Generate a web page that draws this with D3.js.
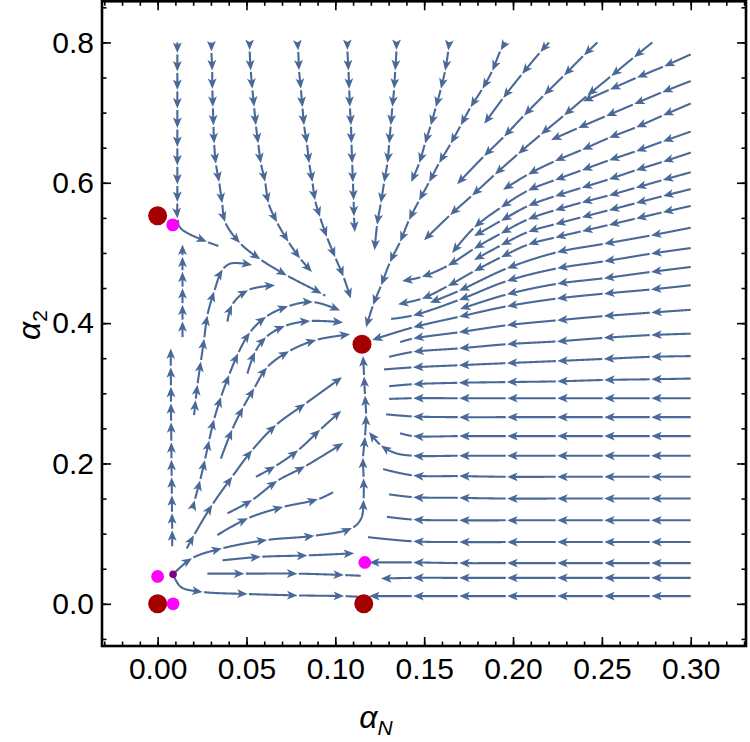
<!DOCTYPE html>
<html>
<head>
<meta charset="utf-8">
<script src="https://cdn.jsdelivr.net/npm/d3@7"></script>
<style>
  body { margin: 0; background: #fff; }
  svg text { font-family: "Liberation Sans", Arial, sans-serif; fill: #000; }
</style>
</head>
<body>
<svg id="chart" width="750" height="742"></svg>
<script>
// fixed points of the flow, as (alpha_N, alpha_2)
const stablePoints = [[0, 0.553], [0.115, 0.370], [0, 0], [0.116, 0]]
const saddlePoints = [[0.0085, 0.540], [0, 0.039], [0.0087, 0], [0.1166, 0.059]]
const sourcePoints = [[0.0087, 0.042]]

const xTickValues = [0, 0.05, 0.1, 0.15, 0.2, 0.25, 0.3]
const xTickLabels = ["0.00", "0.05", "0.10", "0.15", "0.20", "0.25", "0.30"]
const yTickValues = [0, 0.2, 0.4, 0.6, 0.8]
const yTickLabels = ["0.0", "0.2", "0.4", "0.6", "0.8"]

// streamlines: first point is where the line starts,
// every other point is an arrow tip (a third entry 0 = bend / end without arrow)
const topStreams = [
  [[0.0111,0.800],[0.0111,0.785],[0.0111,0.759],[0.0111,0.732],[0.0111,0.706],[0.0111,0.678],[0.0111,0.651],[0.0111,0.625],[0.0111,0.598],[0.0111,0.573],[0.0112,0.549],[0.0131,0.535,0],[0.0277,0.516],[0.0342,0.510,0]],
  [[0.0303,0.800],[0.0303,0.787],[0.0307,0.760],[0.0308,0.734],[0.0311,0.708],[0.0314,0.682],[0.0318,0.656],[0.0328,0.627],[0.0346,0.601],[0.0363,0.571],[0.0380,0.544],[0.0464,0.514],[0.0577,0.491],[0.0727,0.468],[0.0924,0.442],[0.0943,0.439,0]],
  [[0.0518,0.800],[0.0518,0.789],[0.0524,0.760],[0.0533,0.734],[0.0543,0.708],[0.0553,0.682],[0.0566,0.656],[0.0581,0.628],[0.0605,0.601],[0.0624,0.571],[0.0671,0.544],[0.0736,0.516],[0.0802,0.492],[0.0868,0.473]],
  [[0.0787,0.800],[0.0791,0.789],[0.0796,0.760],[0.0806,0.734],[0.0815,0.708],[0.0824,0.682],[0.0840,0.656],[0.0853,0.628],[0.0871,0.601],[0.0886,0.575],[0.0914,0.551],[0.0952,0.523],[0.0999,0.494],[0.1046,0.466],[0.1087,0.435]],
  [[0.1068,0.800],[0.1068,0.789],[0.1074,0.760],[0.1078,0.734],[0.1082,0.708],[0.1088,0.682],[0.1091,0.656],[0.1095,0.628],[0.1099,0.601],[0.1103,0.575],[0.1105,0.552],[0.1110,0.530]],
  [[0.1344,0.800],[0.1344,0.789],[0.1337,0.760],[0.1331,0.734],[0.1321,0.708],[0.1312,0.682],[0.1303,0.656],[0.1293,0.628],[0.1275,0.601],[0.1256,0.571],[0.1235,0.540],[0.1221,0.504]],
  [[0.1640,0.800],[0.1636,0.789],[0.1618,0.760],[0.1594,0.734],[0.1566,0.708],[0.1537,0.682],[0.1505,0.656],[0.1472,0.628],[0.1427,0.601]],
  [[0.1960,0.800],[0.1931,0.789],[0.1884,0.760],[0.1828,0.734],[0.1762,0.708],[0.1706,0.682],[0.1650,0.656],[0.1584,0.628],[0.1528,0.601],[0.1472,0.575],[0.1415,0.547],[0.1365,0.516],[0.1308,0.487],[0.1258,0.454],[0.1213,0.426],[0.1173,0.394]],
  [[0.2203,0.800],[0.2153,0.786],[0.2051,0.755],[0.1945,0.721],[0.1838,0.684]],
  [[0.2475,0.800],[0.2400,0.782],[0.2287,0.753],[0.2175,0.725],[0.2062,0.696],[0.1950,0.666],[0.1837,0.638],[0.1685,0.598]],
  [[0.2784,0.800],[0.2681,0.779],[0.2552,0.752],[0.2417,0.724],[0.2287,0.696],[0.2158,0.669],[0.2028,0.641],[0.1899,0.612],[0.1770,0.582],[0.1646,0.554],[0.1499,0.518]]
]

const rightStreams = [
  [[0.300,0.783],[0.2850,0.766],[0.2698,0.750],[0.2546,0.733],[0.2394,0.716]],
  [[0.300,0.745],[0.2839,0.729],[0.2681,0.712],[0.2523,0.695],[0.2366,0.678],[0.2214,0.661]],
  [[0.300,0.713],[0.2844,0.696],[0.2692,0.679],[0.2540,0.664],[0.2388,0.647],[0.2237,0.631],[0.2085,0.612],[0.1944,0.590]],
  [[0.300,0.673],[0.2844,0.659],[0.2692,0.645],[0.2540,0.632],[0.2388,0.618],[0.2237,0.604],[0.2085,0.589],[0.1933,0.565],[0.1781,0.536],[0.1657,0.500]],
  [[0.300,0.643],[0.2844,0.630],[0.2692,0.618],[0.2540,0.605],[0.2388,0.593],[0.2237,0.581],[0.2085,0.567],[0.1933,0.546],[0.1781,0.524]],
  [[0.300,0.615],[0.2844,0.604],[0.2692,0.593],[0.2540,0.582],[0.2388,0.572],[0.2237,0.561],[0.2085,0.548],[0.1933,0.528],[0.1781,0.506],[0.1634,0.482],[0.1488,0.466],[0.1376,0.460]],
  [[0.300,0.591],[0.2844,0.581],[0.2692,0.571],[0.2540,0.561],[0.2388,0.551],[0.2237,0.541],[0.2085,0.530],[0.1933,0.511],[0.1781,0.490]],
  [[0.300,0.567],[0.2844,0.558],[0.2692,0.549],[0.2540,0.540],[0.2388,0.531],[0.2237,0.522],[0.2085,0.512],[0.1933,0.494],[0.1781,0.474],[0.1634,0.453],[0.1488,0.435],[0.1353,0.427]]
]

const rowStreams = [
  [[0.300,0.536],[0.2777,0.525],[0.2512,0.513],[0.2248,0.501],[0.1966,0.478],[0.1696,0.446],[0.1533,0.429]],
  [[0.300,0.507],[0.2777,0.499],[0.2512,0.488],[0.2248,0.478],[0.1966,0.460],[0.1696,0.433],[0.1438,0.411],[0.1314,0.406,0]],
  [[0.300,0.480],[0.2777,0.473],[0.2512,0.464],[0.2248,0.456],[0.1966,0.441],[0.1702,0.420]],
  [[0.300,0.454],[0.2777,0.448],[0.2512,0.442],[0.2248,0.435],[0.1966,0.424],[0.1696,0.409],[0.1438,0.394],[0.1207,0.376]],
  [[0.300,0.419],[0.2777,0.415],[0.2512,0.410],[0.2248,0.404],[0.1966,0.397],[0.1696,0.387],[0.1438,0.378],[0.1365,0.373,0]],
  [[0.300,0.385],[0.2777,0.383],[0.2512,0.379],[0.2248,0.374],[0.1966,0.370],[0.1696,0.364],[0.1438,0.359],[0.1303,0.352,0]],
  [[0.300,0.353],[0.2777,0.352],[0.2512,0.349],[0.2248,0.346],[0.1966,0.343],[0.1696,0.340],[0.1438,0.337],[0.1274,0.334,0]],
  [[0.300,0.321],[0.2777,0.320],[0.2512,0.319],[0.2248,0.317],[0.1966,0.316],[0.1696,0.315],[0.1438,0.313],[0.1303,0.310,0]],
  [[0.300,0.293],[0.2777,0.293],[0.2512,0.293],[0.2248,0.293],[0.1966,0.293],[0.1696,0.293],[0.1438,0.293],[0.1303,0.292,0]],
  [[0.300,0.266],[0.2777,0.266],[0.2512,0.266],[0.2248,0.266],[0.1966,0.266],[0.1696,0.266],[0.1438,0.267],[0.1286,0.270,0]],
  [[0.300,0.239],[0.2777,0.239],[0.2512,0.239],[0.2248,0.239],[0.1966,0.239],[0.1696,0.239],[0.1438,0.239],[0.1364,0.243,0]],
  [[0.300,0.211],[0.2777,0.211],[0.2512,0.211],[0.2248,0.211],[0.1966,0.211],[0.1696,0.211],[0.1438,0.211],[0.1336,0.215,0],[0.1256,0.226],[0.1190,0.245]],
  [[0.300,0.181],[0.2777,0.181],[0.2512,0.181],[0.2248,0.181],[0.1966,0.181],[0.1696,0.182],[0.1438,0.183],[0.1269,0.192,0]],
  [[0.300,0.150],[0.2777,0.150],[0.2512,0.150],[0.2248,0.150],[0.1966,0.150],[0.1696,0.151],[0.1438,0.152],[0.1303,0.156,0]],
  [[0.300,0.119],[0.2777,0.119],[0.2512,0.119],[0.2248,0.119],[0.1966,0.119],[0.1696,0.119],[0.1438,0.120],[0.1291,0.124,0]],
  [[0.300,0.088],[0.2777,0.088],[0.2512,0.088],[0.2248,0.088],[0.1966,0.088],[0.1696,0.088],[0.1438,0.089],[0.1184,0.095,0]],
  [[0.300,0.058],[0.2777,0.058],[0.2512,0.058],[0.2248,0.058],[0.1966,0.058],[0.1696,0.058],[0.1438,0.059],[0.1190,0.059]],
  [[0.300,0.037],[0.2777,0.037],[0.2512,0.037],[0.2248,0.037],[0.1966,0.037],[0.1696,0.037],[0.1438,0.037],[0.1257,0.036]],
  [[0.300,0.011],[0.2777,0.011],[0.2512,0.011],[0.2248,0.011],[0.1966,0.011],[0.1696,0.011],[0.1438,0.011],[0.1190,0.011]]
]

const lowerStreams = [
  [[0.0140,0.380],[0.0140,0.403],[0.0140,0.426],[0.0140,0.450],[0.0140,0.473],[0.0140,0.495],[0.0140,0.512]],
  [[0.0082,0.082],[0.0082,0.105],[0.0081,0.129],[0.0080,0.155],[0.0079,0.180],[0.0078,0.205],[0.0077,0.230],[0.0076,0.259],[0.0075,0.286],[0.0075,0.309],[0.0074,0.337],[0.0074,0.364]],
  [[0.0205,0.269],[0.0214,0.290],[0.0224,0.312],[0.0243,0.345],[0.0262,0.378],[0.0280,0.411],[0.0318,0.445],[0.0365,0.476],[0.0412,0.485,0],[0.0532,0.483]],
  [[0.0393,0.402],[0.0419,0.426],[0.0509,0.447],[0.0661,0.454]],
  [[0.0196,0.136],[0.0209,0.148],[0.0239,0.176],[0.0266,0.205],[0.0290,0.233],[0.0318,0.263],[0.0357,0.295],[0.0402,0.326],[0.0453,0.357],[0.0520,0.387],[0.0610,0.409],[0.0734,0.424],[0.0875,0.430],[0.1027,0.418]],
  [[0.0505,0.328],[0.0549,0.359],[0.0610,0.380],[0.0717,0.396],[0.0858,0.403],[0.1044,0.401]],
  [[0.0356,0.207],[0.0419,0.248],[0.0481,0.280],[0.0543,0.307],[0.0616,0.337],[0.0740,0.360],[0.0892,0.376],[0.1083,0.384]],
  [[0.0164,0.079],[0.0205,0.098],[0.0307,0.141],[0.0419,0.181],[0.0532,0.219],[0.0667,0.255],[0.0830,0.285],[0.1038,0.323]],
  [[0.0553,0.181],[0.0661,0.196],[0.0791,0.219],[0.0914,0.248],[0.1033,0.275]],
  [[0.0393,0.129],[0.0532,0.148],[0.0672,0.175],[0.0830,0.196],[0.1044,0.229]],
  [[0.0336,0.098],[0.0509,0.122],[0.0706,0.138],[0.0903,0.149],[0.0987,0.159,0]],
  [[0.0087,0.042],[0.0194,0.065],[0.0363,0.079],[0.0616,0.091],[0.0881,0.097],[0.1094,0.108],[0.1146,0.122,0],[0.1159,0.148],[0.1159,0.179],[0.1156,0.208],[0.1167,0.238],[0.1173,0.269],[0.1167,0.297],[0.1162,0.324],[0.1156,0.353]],
  [[0.0087,0.042],[0.0131,0.024,0],[0.0252,0.017],[0.0505,0.014],[0.0787,0.012],[0.1049,0.011],[0.1134,0.010,0]],
  [[0.0365,0.062],[0.0581,0.067],[0.0843,0.069],[0.1106,0.072]],
  [[0.0280,0.043],[0.0487,0.043],[0.0787,0.043],[0.1049,0.041],[0.1143,0.040,0]]
]

const streamColor = "#4a6998"

const svg = d3.select("#chart")
svg.append("rect").attr("width", 750).attr("height", 742).attr("fill", "#fff")

const x = d3.scaleLinear().domain([-0.0313, 0.3311]).range([102, 746])
const y = d3.scaleLinear().domain([-0.0601, 0.8586]).range([646, 1.3])

// --- streamlines ---
const smooth = d3.line().curve(d3.curveCatmullRom.alpha(0.5))
const straight = d3.line()
const streamG = svg.append("g")
const GAP = 1.5, HEAD = 10.5, HALF = 4.4

function drawStream(pts) {
  const px = pts.map(p => [x(p[0]), y(p[1])])
  const tmp = streamG.append("path").attr("d", smooth(px)).attr("fill", "none")
  const el = tmp.node()
  const total = el.getTotalLength()
  const samp = []
  for (let l = 0; l < total; l += 0.5) {
    const q = el.getPointAtLength(l)
    samp.push([q.x, q.y, l])
  }
  const qe = el.getPointAtLength(total)
  samp.push([qe.x, qe.y, total])
  const at = l => {
    const q = el.getPointAtLength(Math.max(0, Math.min(total, l)))
    return [q.x, q.y]
  }

  // arc length of every vertex on the smoothed curve
  let j = 0
  const lens = px.map((p, i) => {
    if (i === 0) return 0
    if (i === px.length - 1) return total
    let best = j, bd = Infinity
    for (let k = j; k < samp.length; k++) {
      const d = Math.hypot(samp[k][0] - p[0], samp[k][1] - p[1])
      if (d < bd) { bd = d; best = k }
    }
    j = best
    return samp[best][2]
  })
  const arrows = []
  pts.forEach((p, i) => { if (i > 0 && p[2] !== 0) arrows.push(lens[i]) })

  const segs = []
  let start = 0
  arrows.forEach(a => { segs.push([start, a - 5]); start = a + GAP })
  if (start < total - 1) segs.push([start, total])

  segs.forEach(([a, b]) => {
    if (b - a < 0.8) return
    const part = samp.filter(s => s[2] >= a && s[2] <= b).map(s => [s[0], s[1]])
    part.unshift(at(a)); part.push(at(b))
    streamG.append("path")
      .attr("d", straight(part))
      .attr("fill", "none")
      .attr("stroke", streamColor)
      .attr("stroke-width", 2.1)
      .attr("stroke-linecap", "butt")
  })

  arrows.forEach(a => {
    const tip = at(a), back = at(a - 4)
    let dx = tip[0] - back[0], dy = tip[1] - back[1]
    const n = Math.hypot(dx, dy) || 1
    dx /= n; dy /= n
    const bx = tip[0] - dx * HEAD, by = tip[1] - dy * HEAD
    const nx = tip[0] - dx * HEAD * 0.75, ny = tip[1] - dy * HEAD * 0.75
    const head = [tip, [bx - dy * HALF, by + dx * HALF], [nx, ny], [bx + dy * HALF, by - dx * HALF]]
    streamG.append("path")
      .attr("d", "M" + head.map(p => p.join(",")).join("L") + "Z")
      .attr("fill", streamColor)
  })
  tmp.remove()
}

topStreams.concat(rightStreams, rowStreams, lowerStreams).forEach(drawStream)

// --- fixed points ---
svg.append("g").selectAll("circle")
  .data(stablePoints)
  .enter().append("circle")
  .attr("cx", d => x(d[0])).attr("cy", d => y(d[1]))
  .attr("r", 9.5).attr("fill", "#a50000")

svg.append("g").selectAll("circle")
  .data(saddlePoints)
  .enter().append("circle")
  .attr("cx", d => x(d[0])).attr("cy", d => y(d[1]))
  .attr("r", 6.4).attr("fill", "#ff00ff")

svg.append("g").selectAll("circle")
  .data(sourcePoints)
  .enter().append("circle")
  .attr("cx", d => x(d[0])).attr("cy", d => y(d[1]))
  .attr("r", 3.8).attr("fill", "#800080")

// --- frame and ticks ---
const xMinor = d3.range(-3, 34).map(v => v / 100)
const yMinor = d3.range(-1, 18).map(v => v * 0.05)

function styleAxis(g) {
  g.select(".domain").remove()
  g.selectAll("line").attr("stroke", "#000").attr("stroke-width", 1.6)
  g.selectAll("text").style("font-size", "30px").style("font-family", "'Liberation Sans', Arial, sans-serif")
}

// bottom
svg.append("g").attr("transform", "translate(0,646)")
  .call(d3.axisBottom(x).tickValues(xMinor).tickSize(-4.5).tickFormat(""))
  .call(styleAxis)
svg.append("g").attr("transform", "translate(0,646)")
  .call(d3.axisBottom(x).tickValues(xTickValues).tickSize(-9).tickPadding(12)
    .tickFormat((d, i) => xTickLabels[i]))
  .call(styleAxis)
// top
svg.append("g").attr("transform", "translate(0,1.3)")
  .call(d3.axisTop(x).tickValues(xMinor).tickSize(-4.5).tickFormat(""))
  .call(styleAxis)
svg.append("g").attr("transform", "translate(0,1.3)")
  .call(d3.axisTop(x).tickValues(xTickValues).tickSize(-9).tickFormat(""))
  .call(styleAxis)
// left
svg.append("g").attr("transform", "translate(102,0)")
  .call(d3.axisLeft(y).tickValues(yMinor).tickSize(-4.5).tickFormat(""))
  .call(styleAxis)
svg.append("g").attr("transform", "translate(102,0)")
  .call(d3.axisLeft(y).tickValues(yTickValues).tickSize(-9).tickPadding(8)
    .tickFormat((d, i) => yTickLabels[i]))
  .call(styleAxis)
// right
svg.append("g").attr("transform", "translate(746,0)")
  .call(d3.axisRight(y).tickValues(yMinor).tickSize(-4.5).tickFormat(""))
  .call(styleAxis)
svg.append("g").attr("transform", "translate(746,0)")
  .call(d3.axisRight(y).tickValues(yTickValues).tickSize(-9).tickFormat(""))
  .call(styleAxis)

svg.append("rect")
  .attr("x", 102).attr("y", 1.3).attr("width", 644).attr("height", 644.7)
  .attr("fill", "none").attr("stroke", "#000").attr("stroke-width", 2.6)

// --- axis titles ---
const xTitle = svg.append("text").attr("x", 376).attr("y", 728)
  .attr("text-anchor", "middle").style("font-size", "32px")
xTitle.append("tspan").style("font-style", "italic").text("α")
xTitle.append("tspan").style("font-style", "italic").style("font-size", "21px").attr("dy", 7).text("N")

const yTitle = svg.append("text")
  .attr("transform", "translate(40,325) rotate(-90)")
  .attr("text-anchor", "middle").style("font-size", "32px")
yTitle.append("tspan").style("font-style", "italic").text("α")
yTitle.append("tspan").style("font-size", "21px").attr("dy", 7).text("2")
</script>
</body>
</html>
